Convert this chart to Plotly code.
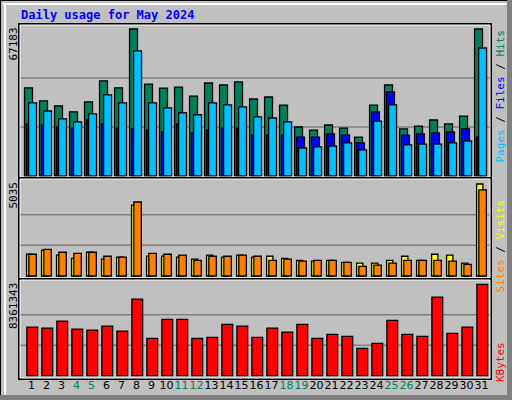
import plotly.graph_objects as go

days = list(range(1, 32))
weekend = [4, 5, 11, 12, 18, 19, 25, 26]
MAXH, MAXV, MAXK = 67183, 5035, 8361343
hits = [40300, 34300, 32000, 29300, 33900, 43500, 40300, 67183, 42000, 40200, 40600, 36500, 42500, 41600, 43000, 35200, 36100, 32400, 22400, 21000, 23300, 21900, 17800, 32400, 41600, 21500, 22800, 25600, 23800, 27400, 67183]
files = [33400, 29700, 26100, 24700, 28400, 37100, 33400, 57200, 33400, 31100, 28900, 28000, 33400, 32500, 31600, 27000, 26500, 24700, 12800, 13300, 13700, 15100, 11900, 25100, 32500, 14200, 14600, 14600, 15100, 16000, 58500]
pages = [23800, 23300, 22400, 21900, 25600, 23800, 21900, 21500, 21000, 20100, 23800, 19700, 21000, 21900, 21900, 18700, 18700, 18700, 17800, 17800, 19200, 18700, 15100, 29300, 38400, 18700, 19200, 19700, 20100, 21500, 17800]
visits = [1190, 1410, 1140, 970, 1300, 920, 1030, 3880, 1080, 1080, 1030, 920, 1140, 1030, 1140, 1030, 1080, 970, 860, 810, 860, 750, 700, 700, 860, 1080, 860, 1190, 1140, 700, 5035]
sites = [1190, 1460, 1300, 1240, 1300, 1080, 1030, 4050, 1240, 1190, 1140, 860, 1080, 1080, 1140, 1080, 860, 920, 810, 860, 860, 750, 530, 590, 700, 860, 860, 860, 810, 640, 4710]
kbytes = [4450000, 4360000, 5000000, 4270000, 4180000, 4540000, 4090000, 7020000, 3420000, 5150000, 5150000, 3420000, 3510000, 4700000, 4540000, 3510000, 4360000, 3990000, 4700000, 3420000, 3790000, 3600000, 2500000, 2960000, 5060000, 3790000, 3600000, 7200000, 3880000, 4450000, 8361343]

C_HITS, C_FILES, C_PAGES = "#00805C", "#00C0FF", "#0000FF"
C_VIS, C_SITES, C_KB = "#FFFF00", "#FF8000", "#FF0000"
line = dict(color="black", width=1.3)

fig = go.Figure()
def bar(y, ax, off, w, c, xa="x"):
    fig.add_trace(go.Bar(x=[d + off for d in days], y=y, width=w, marker=dict(color=c, line=line),
                         yaxis=ax, xaxis=xa, showlegend=False, hoverinfo="skip"))
bar(hits, "y", -0.2, 0.53, C_HITS)
bar(pages, "y", -0.07, 0.53, C_PAGES)
bar(files, "y", 0.07, 0.53, C_FILES)
bar(visits, "y2", -0.12, 0.42, C_VIS, "x2")
bar(sites, "y2", 0.07, 0.5, C_SITES, "x2")
bar(kbytes, "y3", 0.05, 0.72, C_KB, "x3")

W, H = 512, 400
def dom(top, bot):
    return [1 - bot / H, 1 - top / H]
xr = [0.233, 31.63]
ticktext = [f"<span style='color:#00805C'>{d}</span>" if d in weekend else str(d) for d in days]
xcommon = dict(range=xr, showgrid=False, zeroline=False, domain=[20 / W, 491 / W], fixedrange=True)
ycommon = dict(showgrid=False, zeroline=False, showticklabels=False, ticks="")
fig.update_layout(
    width=W, height=H, margin=dict(l=0, r=0, t=0, b=0),
    paper_bgcolor="#C0C0C0", plot_bgcolor="#C0C0C0", barmode="overlay",
    font=dict(family="DejaVu Sans Mono", size=11, color="black"),
    xaxis=dict(**xcommon, anchor="y", showticklabels=False),
    xaxis2=dict(**xcommon, anchor="y2", showticklabels=False),
    xaxis3=dict(**xcommon, anchor="y3", tickmode="array", tickvals=days, ticktext=ticktext, ticks="",
                tickangle=0, tickfont=dict(size=11, family="DejaVu Sans")),
    yaxis=dict(**ycommon, domain=dom(25, 177), range=[-MAXH * 1 / 147, MAXH * 151 / 147]),
    yaxis2=dict(**ycommon, domain=dom(181, 277), range=[-MAXV * 1 / 92, MAXV * 95 / 92]),
    yaxis3=dict(**ycommon, domain=dom(281, 377), range=[-MAXK * 1.3 / 91.3, MAXK * 94.7 / 91.3]),
)
shapes = []
for yref, m in (("y", MAXH), ("y2", MAXV), ("y3", MAXK)):
    for f in (1 / 3, 2 / 3):
        shapes.append(dict(type="line", xref="paper", yref=yref, x0=20 / W, x1=491 / W, y0=m * f, y1=m * f,
                           line=dict(color="#808080", width=1.5), layer="below"))
def prect(x0, y0, x1, y1, col, w):
    shapes.append(dict(type="rect", xref="paper", yref="paper", x0=x0 / W, x1=x1 / W, y0=1 - y1 / H, y1=1 - y0 / H,
                       line=dict(color=col, width=w)))
for t, b in ((25, 177), (179, 278), (280, 378)):
    prect(19, t - 1, 491, b + 1, "black", 2)
    prect(20, t, 490, b, "white", 1)
shapes.append(dict(type="line", xref="paper", yref="paper", x0=0, x1=1, y0=1, y1=1, line=dict(color="black", width=2)))
shapes.append(dict(type="line", xref="paper", yref="paper", x0=0, x1=0, y0=0, y1=1, line=dict(color="black", width=2)))
shapes.append(dict(type="line", xref="paper", yref="paper", x0=3 / W, x1=507 / W, y0=1 - 4 / H, y1=1 - 4 / H, line=dict(color="white", width=2)))
shapes.append(dict(type="line", xref="paper", yref="paper", x0=5 / W, x1=5 / W, y0=4 / H, y1=1 - 4 / H, line=dict(color="white", width=2)))
shapes.append(dict(type="rect", xref="paper", yref="paper", x0=507 / W, x1=1, y0=0, y1=1, fillcolor="#808080", line=dict(width=0)))
shapes.append(dict(type="rect", xref="paper", yref="paper", x0=0, x1=1, y0=0, y1=5 / H, fillcolor="#808080", line=dict(width=0)))
fig.update_layout(shapes=shapes)

def ann(text, x, y, angle=0, color="black", size=11, xanchor="center", yanchor="middle", bold=False):
    fig.add_annotation(text=f"<b>{text}</b>" if bold else text, x=x / W, y=1 - y / H, xref="paper", yref="paper",
                       showarrow=False, textangle=angle, xanchor=xanchor, yanchor=yanchor,
                       font=dict(color=color, size=size, family="DejaVu Sans Mono"))
ann("Daily usage for May 2024", 19, 15, color="#0000FF", size=12, xanchor="left", bold=True)
ann(str(MAXH), 13, 26, angle=-90, yanchor="top")
ann(str(MAXV), 13, 180, angle=-90, yanchor="top")
ann(str(MAXK), 13, 281, angle=-90, yanchor="top")
ann(f"<span style='color:{C_FILES}'>Pages</span> / <span style='color:{C_PAGES}'>Files</span> / <span style='color:{C_HITS}'>Hits</span>",
    500, 28, angle=-90, yanchor="top")
ann(f"<span style='color:{C_SITES}'>Sites</span> / <span style='color:{C_VIS}'>Visits</span>", 500, 198, angle=-90, yanchor="top")
ann(f"<span style='color:{C_KB}'>KBytes</span>", 500, 340, angle=-90, yanchor="top")

fig.write_html("out.html", config={"displayModeBar": False})
with open("out.html", encoding="utf-8") as fh:
    html = fh.read()
html = html.replace("<head>", "<head><style>html,body{margin:0;padding:0;overflow:hidden}</style>", 1)
with open("out.html", "w", encoding="utf-8") as fh:
    fh.write(html)
